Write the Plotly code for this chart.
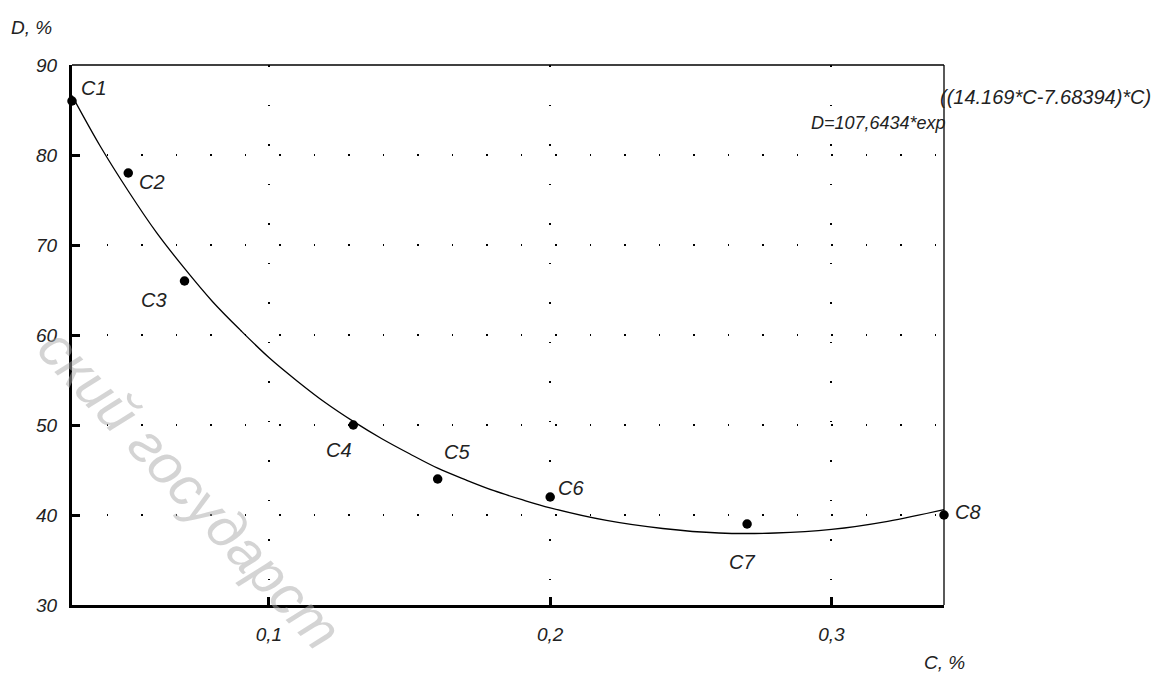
import plotly.graph_objects as go

# Measured points
point_names = ["C1", "C2", "C3", "C4", "C5", "C6", "C7", "C8"]
conc_c = [0.03, 0.05, 0.07, 0.13, 0.16, 0.20, 0.27, 0.34]
degree_d = [86, 78, 66, 50, 44, 42, 39, 40]

# Fitted curve
curve_c = [0.03, 0.04, 0.05, 0.06, 0.07, 0.08, 0.09, 0.10, 0.11, 0.12, 0.13, 0.14,
           0.15, 0.16, 0.17, 0.18, 0.19, 0.20, 0.22, 0.24, 0.26, 0.28, 0.30, 0.32, 0.34]
curve_d = [86.6, 81.0, 76.0, 71.4, 67.4, 63.7, 60.5, 57.5, 54.9, 52.5, 50.4, 48.5,
           46.8, 45.2, 43.9, 42.7, 41.7, 40.8, 39.4, 38.5, 38.0, 38.0, 38.4, 39.3, 40.6]

# Label offsets (pixels) for the point names
label_dx = [22, 24, -31, -14, 19, 21, -5, 24]
label_dy = [13, -9, -19, -25, 27, 9, -38, 3]

x_tick_vals = [0.1, 0.2, 0.3]
x_tick_text = ["0,1", "0,2", "0,3"]
y_tick_vals = [30, 40, 50, 60, 70, 80, 90]
y_tick_text = ["30", "40", "50", "60", "70", "80", "90"]

FONT = "Liberation Sans, Arial, sans-serif"

fig = go.Figure()

fig.add_trace(go.Scatter(
    x=curve_c, y=curve_d, mode="lines",
    line=dict(color="black", width=1.3, shape="spline"),
    hoverinfo="skip", showlegend=False, cliponaxis=False,
))
fig.add_trace(go.Scatter(
    x=conc_c, y=degree_d, mode="markers",
    marker=dict(color="black", size=9.5),
    showlegend=False, cliponaxis=False,
))

annotations = []
for name, cx, dy_, ox, oy in zip(point_names, conc_c, degree_d, label_dx, label_dy):
    annotations.append(dict(
        x=cx, y=dy_, xref="x", yref="y", text=name, showarrow=False,
        xshift=ox, yshift=oy, xanchor="center", yanchor="middle",
        font=dict(family=FONT, size=20, color="#222", style="italic"),
    ))

annotations += [
    dict(x=-0.046, y=1.07, xref="paper", yref="paper", text="D, %", showarrow=False,
         xanchor="center", yanchor="middle",
         font=dict(family=FONT, size=19, color="#222", style="italic")),
    dict(x=1.0, y=-0.106, xref="paper", yref="paper", text="C, %", showarrow=False,
         xanchor="center", yanchor="middle",
         font=dict(family=FONT, size=19, color="#222", style="italic")),
    dict(x=1.2397, y=0.9407, xref="paper", yref="paper", text="((14.169*C-7.68394)*C)",
         showarrow=False, xanchor="right", yanchor="middle",
         font=dict(family=FONT, size=20, color="#222", style="italic")),
    dict(x=1.0044, y=0.8926, xref="paper", yref="paper", text="D=107,6434*exp",
         showarrow=False, xanchor="right", yanchor="middle",
         font=dict(family=FONT, size=18, color="#222", style="italic")),
    # watermark
    dict(x=0.135, y=0.215, xref="paper", yref="paper", text="ский государст",
         showarrow=False, xanchor="center", yanchor="middle", textangle=47,
         font=dict(family=FONT, size=56, color="rgba(170,170,170,0.5)")),
]

fig.update_layout(
    width=1161, height=673,
    margin=dict(l=72, r=217, t=65, b=68),
    paper_bgcolor="white", plot_bgcolor="white",
    font=dict(family=FONT, size=19, color="#222", style="italic"),
    annotations=annotations,
    shapes=[
        dict(type="line", xref="paper", yref="paper", x0=0, x1=1, y0=1, y1=1,
             line=dict(color="black", width=1.5)),
        dict(type="line", xref="paper", yref="paper", x0=1, x1=1, y0=0, y1=1,
             line=dict(color="black", width=1.3)),
    ],
)

fig.update_xaxes(
    range=[0.03, 0.34], tickvals=x_tick_vals, ticktext=x_tick_text,
    ticks="inside", ticklen=8, tickwidth=3, tickcolor="black",
    showline=True, linecolor="black", linewidth=3, mirror=False,
    showgrid=True, gridcolor="black", gridwidth=1.5, griddash="1.5px,38px",
    zeroline=False, ticklabelstandoff=10,
    tickfont=dict(family=FONT, size=19, color="#222", style="italic"),
)
fig.update_yaxes(
    range=[30, 90], tickvals=y_tick_vals, ticktext=y_tick_text,
    ticks="inside", ticklen=8, tickwidth=3, tickcolor="black",
    showline=True, linecolor="black", linewidth=3, mirror=False,
    showgrid=True, gridcolor="black", gridwidth=1.5, griddash="1.5px,33px",
    zeroline=False, ticklabelstandoff=8,
    tickfont=dict(family=FONT, size=19, color="#222", style="italic"),
)

fig.write_html("out.html")
